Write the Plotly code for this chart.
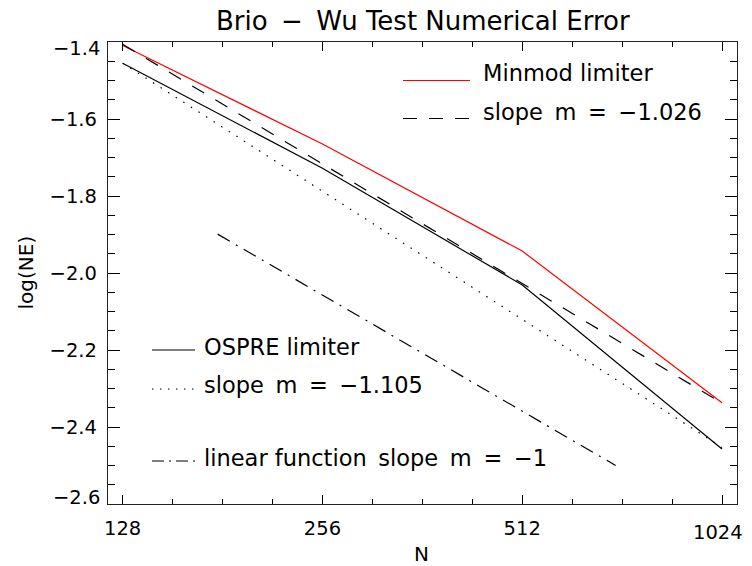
import plotly.graph_objects as go

# ---- data ----
N_pts = [128, 256, 512, 1024]
minmod_err = [-1.409, -1.665, -1.943, -2.337]
ospre_err = [-1.455, -1.728, -2.031, -2.457]

fit_N = [128, 1024]
minmod_fit = [-1.406, -2.338]   # slope m = -1.026
ospre_fit = [-1.455, -2.453]    # slope m = -1.105

lin_N = [178, 708]
lin_y = [-1.899, -2.500]        # linear function slope m = -1

x_ticks = [128, 256, 512, 1024]
x_ticktext = ["128", "256", "512", "1024"]
y_ticks = [-2.6, -2.4, -2.2, -2.0, -1.8, -1.6, -1.4]
y_ticktext = ["\u22122.6", "\u22122.4", "\u22122.2", "\u22122.0", "\u22121.8", "\u22121.6", "\u22121.4"]

SP = " \u2009"  # slightly wider word space, like the original vector font
title_text = "Brio" + SP + "\u2212" + SP + "Wu Test Numerical Error"
legend_top = ["Minmod limiter", "slope" + SP + "m" + SP + "=" + SP + "\u22121.026"]
legend_bot = ["OSPRE limiter", "slope" + SP + "m" + SP + "=" + SP + "\u22121.105",
              "linear function" + SP + "slope" + SP + "m" + SP + "=" + SP + "\u22121"]

FONT = "DejaVu Sans, sans-serif"

W, H = 752, 566
ML, MR, MT, MB = 108, 15, 42, 62
PW, PH = W - ML - MR, H - MT - MB


def px(x):
    return (x - ML) / PW


def py(y):
    return 1 - (y - MT) / PH


fig = go.Figure()
fig.add_trace(go.Scatter(x=N_pts, y=minmod_err, mode="lines",
                         line=dict(color="#ff0000", width=1.2), showlegend=False))
fig.add_trace(go.Scatter(x=fit_N, y=minmod_fit, mode="lines",
                         line=dict(color="black", width=1.2, dash="14px,13px"), showlegend=False))
fig.add_trace(go.Scatter(x=N_pts, y=ospre_err, mode="lines",
                         line=dict(color="black", width=1.2), showlegend=False))
fig.add_trace(go.Scatter(x=fit_N, y=ospre_fit, mode="lines",
                         line=dict(color="black", width=1.2, dash="1.5px,7.5px"), showlegend=False))
fig.add_trace(go.Scatter(x=lin_N, y=lin_y, mode="lines",
                         line=dict(color="black", width=1.2, dash="14px,7px,2px,7px"), showlegend=False))

# legend lines
shapes = []
def seg(x0, x1, y, color="black", dash="solid"):
    shapes.append(dict(type="line", xref="paper", yref="paper",
                       x0=px(x0), x1=px(x1), y0=py(y), y1=py(y),
                       line=dict(color=color, width=1.2, dash=dash)))

seg(403, 470, 80.5, color="#ff0000")
seg(403, 470, 118.5, dash="14px,12px")
seg(152, 195, 350)
seg(152, 195, 389, dash="1.5px,6.5px")
seg(152, 195, 461, dash="12px,5px,2px,5px")

annotations = []
def txt(x, y, s, size=22.5, xanchor="left", angle=0):
    annotations.append(dict(xref="paper", yref="paper", x=px(x), y=py(y), text=s,
                            showarrow=False, xanchor=xanchor, yanchor="middle",
                            textangle=angle,
                            font=dict(family=FONT, size=size, color="black")))

txt(481, 73.5, legend_top[0])
txt(481, 111.5, legend_top[1])
txt(202, 347, legend_bot[0])
txt(202, 385, legend_bot[1])
txt(202, 457.5, legend_bot[2])
txt(422.5, 21.5, title_text, size=26, xanchor="center")
txt(421.7, 554, "N", size=20, xanchor="center")
txt(25.5, 273, "log(NE)", size=20, xanchor="center", angle=-90)

# end-of-axis tick labels sit slightly inside the frame, as in the original
y_ticktext_axis = list(y_ticktext)
y_ticktext_axis[0] = ""
y_ticktext_axis[-1] = ""
txt(101.5, 48.5, y_ticktext[-1], size=19.5, xanchor="right")
txt(101.5, 497.5, y_ticktext[0], size=19.5, xanchor="right")
x_ticktext_axis = list(x_ticktext)
x_ticktext_axis[-1] = ""
txt(717.5, 532.5, x_ticktext[-1], size=19.5, xanchor="center")

fig.update_layout(
    width=W, height=H,
    margin=dict(l=ML, r=MR, t=MT, b=MB, autoexpand=False),
    paper_bgcolor="white", plot_bgcolor="white",
    shapes=shapes, annotations=annotations,
    showlegend=False,
    font=dict(family=FONT, size=19, color="black"),
)

fig.update_xaxes(
    type="log", range=[2.0851, 3.0329], automargin=False,
    tickmode="array", tickvals=x_ticks, ticktext=x_ticktext_axis,
    ticks="inside", ticklen=9, tickwidth=1, tickcolor="black",
    showline=True, linecolor="#222", linewidth=1.3, mirror="allticks",
    showgrid=False, zeroline=False,
    tickfont=dict(family=FONT, size=19.5),
    ticklabelstandoff=6,
    minor=dict(tickmode="array",
               tickvals=[128 * 2 ** (k / 4) for k in range(1, 12) if k % 4],
               ticks="inside", ticklen=4.5, tickcolor="black", tickwidth=1, showgrid=False),
)
fig.update_yaxes(
    range=[-2.6, -1.4], automargin=False,
    tickmode="array", tickvals=y_ticks, ticktext=y_ticktext_axis,
    ticks="inside", ticklen=12, tickwidth=1, tickcolor="black",
    showline=True, linecolor="#222", linewidth=1.3, mirror="allticks",
    showgrid=False, zeroline=False,
    tickfont=dict(family=FONT, size=19.5),
    ticklabelstandoff=6,
    minor=dict(dtick=0.05, ticks="inside", ticklen=6.5, tickcolor="black",
               tickwidth=1, showgrid=False),
)

fig.write_html("out.html")
